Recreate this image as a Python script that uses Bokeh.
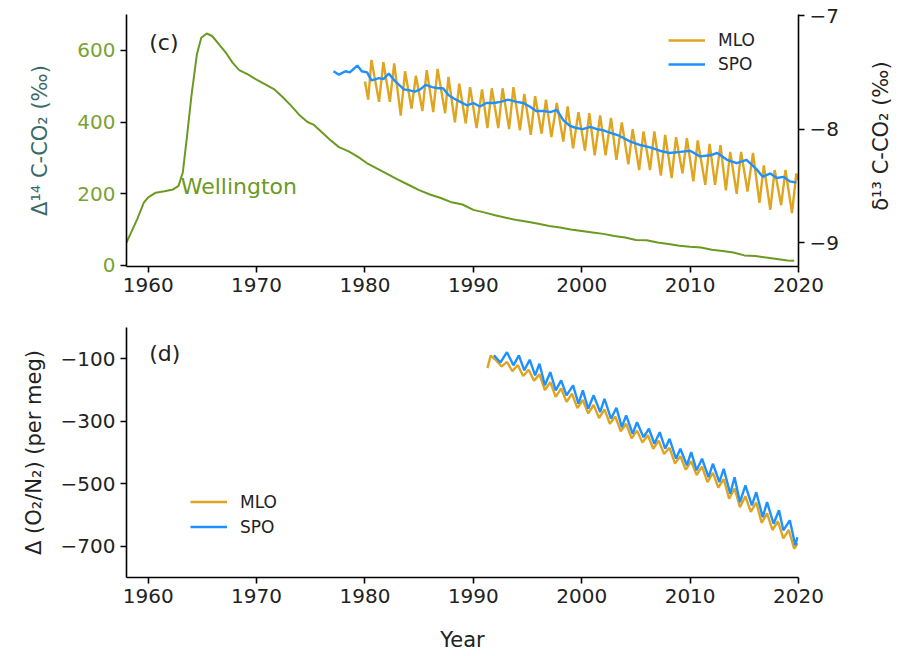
import math
from bokeh.plotting import figure
from bokeh.models import Range1d, LinearAxis, FixedTicker, Legend, LegendItem, Label
from bokeh.layouts import column, row
from bokeh.embed import file_html
from bokeh.resources import INLINE

FONT = "DejaVu Sans"
OLIVE = "#6b9a22"
OLIVE_TXT = "#7aa232"
TEAL = "#3a6a68"
GOLD = "#e0a520"
BLUE = "#1e90ff"

# ---------------- data ----------------
wel_year = [1958.0, 1959.0, 1959.6, 1960.0, 1960.7, 1961.5, 1962.3, 1962.8, 1963.2, 1963.6,
            1964.0, 1964.5, 1964.9, 1965.4, 1965.9, 1966.5, 1967.2, 1967.8, 1968.4, 1969.2,
            1970.0, 1970.8, 1971.6, 1972.4, 1973.2, 1974.0, 1974.7, 1975.3, 1976.0, 1976.8,
            1977.6, 1978.5, 1979.4, 1980.2, 1981.0, 1982.0, 1983.0, 1984.0, 1985.0, 1986.0,
            1987.0, 1988.0, 1989.0, 1990.0, 1991.0, 1992.0, 1993.0, 1994.0, 1995.0, 1996.0,
            1997.0, 1998.0, 1999.0, 2000.0, 2001.0, 2002.0, 2003.0, 2004.0, 2005.0, 2006.0,
            2007.0, 2008.0, 2009.0, 2010.0, 2011.0, 2012.0, 2013.0, 2014.0, 2015.0, 2016.0,
            2017.0, 2018.0, 2019.0, 2019.6]
wel_d14c = [64, 130, 175, 190, 203, 207, 212, 222, 260, 365,
            475, 590, 635, 647, 640, 618, 592, 565, 545, 533,
            518, 505, 492, 470, 445, 418, 400, 392, 372, 350,
            330, 318, 302, 285, 272, 256, 240, 225, 210, 198,
            188, 176, 170, 155, 148, 140, 133, 127, 122, 116,
            110, 106, 100, 96, 92, 88, 82, 78, 71, 70,
            64, 60, 55, 52, 50, 44, 40, 36, 28, 26,
            22, 18, 14, 13]

spo13_year = [1977.1, 1977.6, 1978.2, 1978.6, 1979.3, 1979.7, 1980.2, 1980.6, 1981.3, 1981.7,
              1982.2, 1982.8, 1983.6, 1984.2, 1984.6, 1985.1, 1985.6, 1986.2, 1986.8, 1987.2,
              1987.7, 1988.2, 1988.8, 1989.4, 1990.0, 1990.6, 1991.2, 1991.9, 1992.5, 1993.2,
              1994.0, 1994.6, 1995.2, 1995.8, 1996.5, 1997.1, 1997.7, 1998.3, 1998.9, 1999.5,
              2000.1, 2000.8, 2001.4, 2002.0, 2002.6, 2003.5, 2004.5, 2005.4, 2006.3, 2007.2,
              2008.1, 2009.1, 2010.0, 2010.9, 2011.9, 2012.5, 2013.4, 2014.3, 2015.2, 2016.1,
              2016.7, 2017.4, 2018.0, 2018.6, 2019.2, 2019.8]
spo13_d13c = [-7.49, -7.52, -7.49, -7.50, -7.44, -7.49, -7.50, -7.57, -7.55, -7.56,
              -7.51, -7.58, -7.65, -7.66, -7.67, -7.65, -7.61, -7.63, -7.64, -7.64,
              -7.70, -7.73, -7.76, -7.79, -7.77, -7.80, -7.77, -7.77, -7.76, -7.74,
              -7.76, -7.77, -7.80, -7.84, -7.84, -7.85, -7.83, -7.92, -7.97, -7.99,
              -8.00, -7.98, -8.00, -8.01, -8.03, -8.06, -8.11, -8.14, -8.16, -8.19,
              -8.21, -8.20, -8.19, -8.24, -8.23, -8.21, -8.27, -8.30, -8.27, -8.35,
              -8.42, -8.39, -8.43, -8.42, -8.46, -8.47]

mlo13_year = [1980.0, 1980.3, 1980.6, 1981.3, 1981.7, 1982.3, 1982.7, 1983.3, 1983.7, 1984.3,
              1984.7, 1985.3, 1985.7, 1986.3, 1986.7, 1987.4, 1987.7, 1988.3, 1988.7, 1989.3,
              1989.7, 1990.3, 1990.8, 1991.3, 1991.7, 1992.3, 1992.7, 1993.3, 1993.7, 1994.3,
              1994.7, 1995.3, 1995.7, 1996.3, 1996.7, 1997.2, 1997.7, 1998.3, 1998.7, 1999.2,
              1999.7, 2000.3, 2000.7, 2001.2, 2001.7, 2002.2, 2002.7, 2003.2, 2003.7, 2004.3,
              2004.7, 2005.3, 2005.7, 2006.3, 2006.7, 2007.3, 2007.7, 2008.3, 2008.7, 2009.3,
              2009.7, 2010.3, 2010.7, 2011.4, 2011.8, 2012.3, 2012.8, 2013.3, 2013.7, 2014.3,
              2014.7, 2015.3, 2015.8, 2016.4, 2016.8, 2017.4, 2017.8, 2018.4, 2018.8, 2019.4,
              2019.8, 2019.95]
mlo13_d13c = [-7.58, -7.74, -7.39, -7.76, -7.41, -7.76, -7.42, -7.88, -7.49, -7.82,
              -7.53, -7.84, -7.48, -7.85, -7.47, -7.86, -7.54, -7.94, -7.60, -7.95,
              -7.63, -7.99, -7.65, -7.99, -7.64, -7.99, -7.64, -8.00, -7.63, -8.01,
              -7.69, -8.05, -7.71, -8.04, -7.74, -8.07, -7.77, -8.11, -7.80, -8.17,
              -7.85, -8.19, -7.86, -8.23, -7.88, -8.23, -7.90, -8.27, -7.94, -8.31,
              -8.00, -8.36, -8.02, -8.36, -8.02, -8.41, -8.05, -8.43, -8.07, -8.39,
              -8.08, -8.46, -8.10, -8.49, -8.13, -8.49, -8.14, -8.54, -8.20, -8.57,
              -8.20, -8.55, -8.21, -8.65, -8.32, -8.71, -8.36, -8.67, -8.36, -8.74,
              -8.39, -8.45]

spo_o2_year = [1991.9, 1992.5, 1993.1, 1993.7, 1994.2, 1994.7, 1995.2, 1995.7, 1996.1, 1996.6,
               1997.1, 1997.6, 1998.1, 1998.6, 1999.2, 1999.7, 2000.1, 2000.6, 2001.1, 2001.7,
               2002.1, 2002.7, 2003.2, 2003.7, 2004.1, 2004.7, 2005.1, 2005.7, 2006.2, 2006.7,
               2007.2, 2007.7, 2008.1, 2008.7, 2009.1, 2009.7, 2010.1, 2010.6, 2011.1, 2011.7,
               2012.1, 2012.7, 2013.1, 2013.7, 2014.1, 2014.6, 2015.1, 2015.7, 2016.1, 2016.7,
               2017.1, 2017.7, 2018.2, 2018.6, 2019.2, 2019.7, 2019.9]
spo_o2 = [-89, -112, -79, -121, -89, -137, -103, -153, -116, -185,
          -143, -201, -169, -217, -185, -244, -201, -260, -217, -271,
          -228, -292, -257, -319, -281, -340, -303, -351, -324, -372,
          -335, -388, -356, -420, -388, -441, -399, -457, -420, -479,
          -436, -495, -452, -532, -479, -559, -505, -569, -527, -607,
          -559, -628, -585, -649, -617, -697, -671]

mlo_o2_year = [1991.3, 1991.6, 1992.1, 1992.6, 1993.1, 1993.6, 1994.1, 1994.6, 1995.1, 1995.6,
               1996.1, 1996.6, 1997.1, 1997.6, 1998.1, 1998.6, 1999.1, 1999.6, 2000.1, 2000.6,
               2001.1, 2001.6, 2002.1, 2002.6, 2003.1, 2003.6, 2004.1, 2004.6, 2005.1, 2005.6,
               2006.1, 2006.6, 2007.1, 2007.6, 2008.1, 2008.6, 2009.1, 2009.6, 2010.1, 2010.6,
               2011.1, 2011.6, 2012.1, 2012.6, 2013.1, 2013.6, 2014.1, 2014.6, 2015.1, 2015.6,
               2016.1, 2016.6, 2017.1, 2017.6, 2018.1, 2018.6, 2019.1, 2019.6, 2019.95]
mlo_o2 = [-130, -90, -105, -125, -110, -140, -120, -155, -135, -170,
          -150, -200, -175, -222, -195, -238, -212, -258, -232, -275,
          -248, -290, -262, -308, -285, -332, -308, -355, -330, -368,
          -345, -388, -362, -405, -385, -435, -412, -455, -428, -472,
          -445, -495, -465, -512, -485, -548, -515, -575, -540, -590,
          -560, -625, -595, -648, -620, -675, -648, -708, -690]

year_ticks = [1960, 1970, 1980, 1990, 2000, 2010, 2020]
d14_ticks = [0, 200, 400, 600]
d13_ticks = [-9, -8, -7]
o2_ticks = [-700, -500, -300, -100]


def minus(v):
    return str(v).replace("-", "\u2212")


def style_axis(ax, size="20px"):
    ax.axis_line_width = 1.6
    ax.axis_line_color = "black"
    ax.major_tick_line_width = 1.6
    ax.major_tick_out = 6
    ax.major_tick_in = 0
    ax.minor_tick_line_color = None
    ax.major_label_text_font = FONT
    ax.major_label_text_font_size = size
    ax.major_label_text_color = "#222222"
    ax.axis_label_text_font = FONT
    ax.axis_label_text_font_style = "normal"
    ax.axis_label_text_font_size = "21px"
    ax.axis_label_text_color = "#222222"


# ---------------- panel (c) ----------------
p1 = figure(output_backend="svg", toolbar_location=None,
            frame_width=672, frame_height=252,
            min_border_left=126, min_border_right=62, min_border_top=14, min_border_bottom=34,
            x_range=Range1d(1958, 2020), y_range=Range1d(-3, 700))
p1.extra_y_ranges = {"d13": Range1d(-9.21, -6.99)}
p1.grid.visible = False
p1.outline_line_color = None

p1.line(wel_year, wel_d14c, line_color=OLIVE, line_width=2)
r_mlo = p1.line(mlo13_year, mlo13_d13c, line_color=GOLD, line_width=2.4, y_range_name="d13")
r_spo = p1.line(spo13_year, spo13_d13c, line_color=BLUE, line_width=2.4, y_range_name="d13")

style_axis(p1.xaxis[0])
p1.xaxis[0].ticker = FixedTicker(ticks=year_ticks)

ly = p1.yaxis[0]
style_axis(ly)
ly.ticker = FixedTicker(ticks=d14_ticks)
ly.major_label_text_color = OLIVE_TXT
ly.axis_label = "\u0394\u00b9\u2074 C-CO\u2082 (\u2030)"
ly.axis_label_text_color = TEAL
ly.axis_label_standoff = 22

ry = LinearAxis(y_range_name="d13")
style_axis(ry)
ry.ticker = FixedTicker(ticks=d13_ticks)
ry.major_label_overrides = {t: minus(t) for t in d13_ticks}
p1.add_layout(ry, "right")

p1.add_layout(Label(x=1963.0, y=220, text="Wellington", text_baseline="middle",
                    text_color=OLIVE, text_font=FONT, text_font_size="22px"))
p1.add_layout(Label(x=1960.1, y=621, text="(c)", text_baseline="middle",
                    text_color="#222222", text_font=FONT, text_font_size="22px"))

leg1 = Legend(items=[LegendItem(label="MLO", renderers=[r_mlo]),
                     LegendItem(label="SPO", renderers=[r_spo])],
              location=(542, 190), padding=0, margin=0, spacing=0,
              glyph_width=37, glyph_height=24, label_height=24, label_standoff=13,
              label_text_font=FONT, label_text_font_size="17px", label_text_color="#222222",
              border_line_alpha=0, background_fill_alpha=0)
p1.add_layout(leg1)

# right-axis title of panel (c), reading bottom-to-top, in a slim strip
pr = figure(output_backend="svg", toolbar_location=None,
            frame_width=32, frame_height=300,
            min_border_left=0, min_border_right=0, min_border_top=0, min_border_bottom=0,
            x_range=Range1d(0, 1), y_range=Range1d(0, 1),
            x_axis_type=None, y_axis_type=None)
pr.grid.visible = False
pr.outline_line_color = None
pr.add_layout(Label(x=0.64, y=0.595, text="\u03b4\u00b9\u00b3 C-CO\u2082 (\u2030)",
                    angle=math.pi / 2, text_align="center", text_baseline="middle",
                    text_color="#222222", text_font=FONT, text_font_size="21px"))

# ---------------- panel (d) ----------------
p2 = figure(output_backend="svg", toolbar_location=None,
            frame_width=672, frame_height=250,
            min_border_left=126, min_border_right=94, min_border_top=27, min_border_bottom=66,
            x_range=Range1d(1958, 2020), y_range=Range1d(-800, 0))
p2.grid.visible = False
p2.outline_line_color = None

r_mlo2 = p2.line(mlo_o2_year, mlo_o2, line_color=GOLD, line_width=2.4)
r_spo2 = p2.line(spo_o2_year, spo_o2, line_color=BLUE, line_width=2.4)

bx = p2.xaxis[0]
style_axis(bx)
bx.ticker = FixedTicker(ticks=year_ticks)
bx.axis_label = "Year"
bx.axis_label_standoff = 22

by = p2.yaxis[0]
style_axis(by)
by.ticker = FixedTicker(ticks=o2_ticks)
by.major_label_overrides = {t: minus(t) for t in o2_ticks}
by.axis_label = "\u0394 (O\u2082/N\u2082) (per meg)"
by.axis_label_standoff = 12

p2.add_layout(Label(x=1960.1, y=-83, text="(d)", text_baseline="middle",
                    text_color="#222222", text_font=FONT, text_font_size="22px"))

leg2 = Legend(items=[LegendItem(label="MLO", renderers=[r_mlo2]),
                     LegendItem(label="SPO", renderers=[r_spo2])],
              location=(64, 38), padding=0, margin=0, spacing=0,
              glyph_width=37, glyph_height=25, label_height=25, label_standoff=13,
              label_text_font=FONT, label_text_font_size="17px", label_text_color="#222222",
              border_line_alpha=0, background_fill_alpha=0)
p2.add_layout(leg2)

layout = column(row(p1, pr, spacing=0), p2, spacing=0)
open("out.html", "w").write(file_html(layout, INLINE))
